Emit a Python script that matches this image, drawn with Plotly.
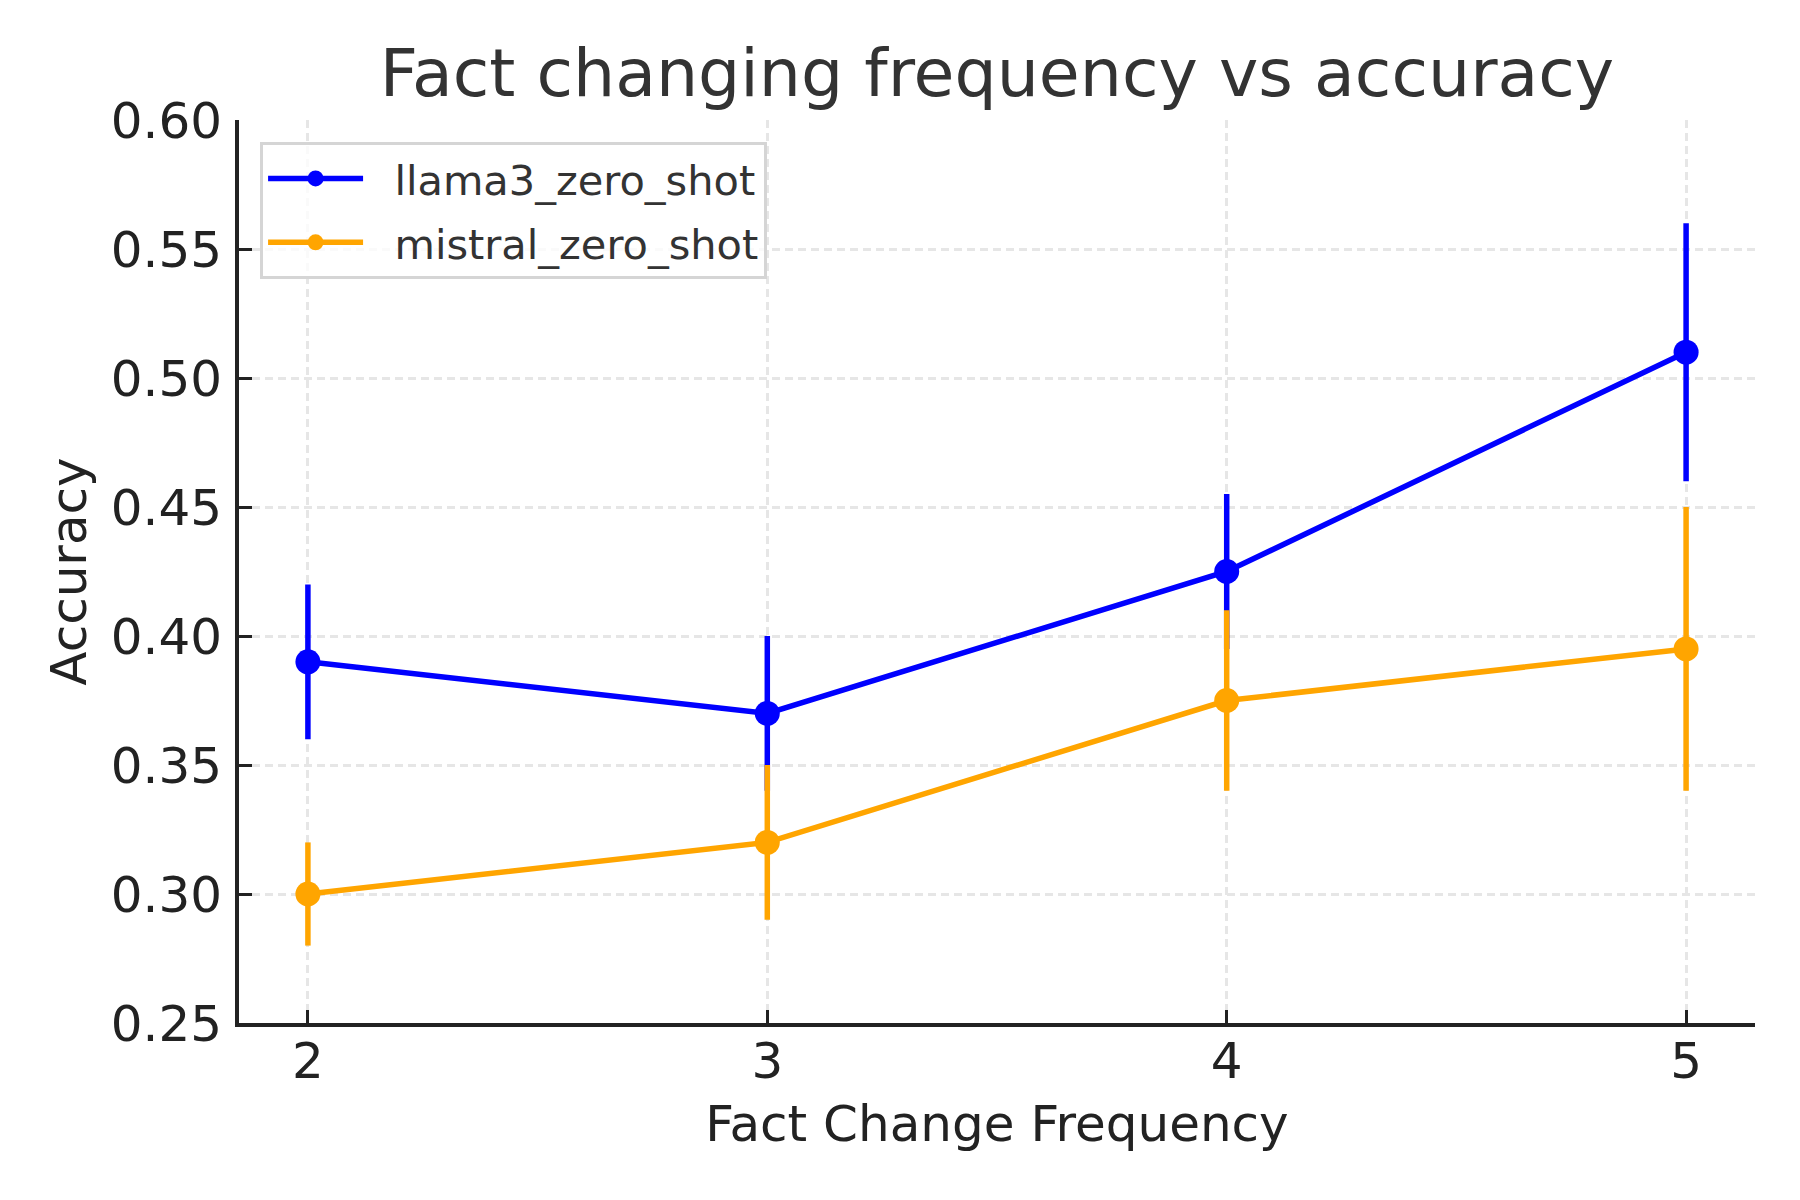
import plotly.graph_objects as go

freq = [2, 3, 4, 5]
llama3_acc = [0.39, 0.37, 0.425, 0.51]
llama3_err = [0.03, 0.03, 0.03, 0.05]
mistral_acc = [0.30, 0.32, 0.375, 0.395]
mistral_err = [0.02, 0.03, 0.035, 0.055]

y_ticks = [0.25, 0.30, 0.35, 0.40, 0.45, 0.50, 0.55, 0.60]
y_tick_text = ["0.25", "0.30", "0.35", "0.40", "0.45", "0.50", "0.55", "0.60"]

series_names = ["llama3_zero_shot", "mistral_zero_shot"]
series_colors = ["#0000ff", "#ffa500"]

FONT = "DejaVu Sans"

fig = go.Figure()
for name, acc, err, color in zip(series_names, [llama3_acc, mistral_acc],
                                 [llama3_err, mistral_err], series_colors):
    fig.add_trace(go.Scatter(
        x=freq, y=acc, name="  " + name, mode="lines+markers", legendgroup=name,
        line=dict(color=color, width=5.5),
        marker=dict(color=color, size=25),
        error_y=dict(type="data", array=err, visible=True, color=color,
                     thickness=5.5, width=0),
    ))

axis_common = dict(
    showline=True, linecolor="#222222", linewidth=4,
    ticks="inside", ticklen=13, tickwidth=3, tickcolor="#222222",
    showgrid=True, gridcolor="#e6e6e6", gridwidth=2.5, griddash="8px,5px",
    zeroline=False, mirror=False,
    tickfont=dict(family=FONT, size=50, color="#222222"),
    automargin=False,
)

L, R, T, B = 231, 53, 112, 185

fig.update_layout(
    width=1800, height=1200,
    margin=dict(l=L, r=R, t=T, b=B),
    paper_bgcolor="white", plot_bgcolor="white",
    font=dict(family=FONT, color="#222222"),
    title=dict(text="Fact changing frequency vs accuracy",
               font=dict(family=FONT, size=66.5, color="#333333"),
               x=(L + 1800 - R) / 2 / 1800, xanchor="center",
               y=1 - 65 / 1200, yanchor="middle"),
    xaxis=dict(range=[1.85, 5.15], tickvals=freq, ticktext=[str(v) for v in freq],
               ticklabelstandoff=-9,
               title=dict(text="Fact Change Frequency",
                          font=dict(family=FONT, size=50, color="#222222"),
                          standoff=18),
               **axis_common),
    yaxis=dict(range=[0.25, 0.60], tickvals=y_ticks, ticktext=y_tick_text,
               ticklabelstandoff=3,
               title=dict(text="Accuracy",
                          font=dict(family=FONT, size=50, color="#222222"),
                          standoff=9),
               **axis_common),
    legend=dict(x=0.0139, y=0.9757, xanchor="left", yanchor="top",
                bgcolor="rgba(255,255,255,0.8)", bordercolor="#d5d5d5",
                borderwidth=3, itemwidth=95,
                font=dict(family=FONT, size=41.5, color="#333333"),
                tracegroupgap=7),
    showlegend=True,
)

fig.write_html("out.html")
